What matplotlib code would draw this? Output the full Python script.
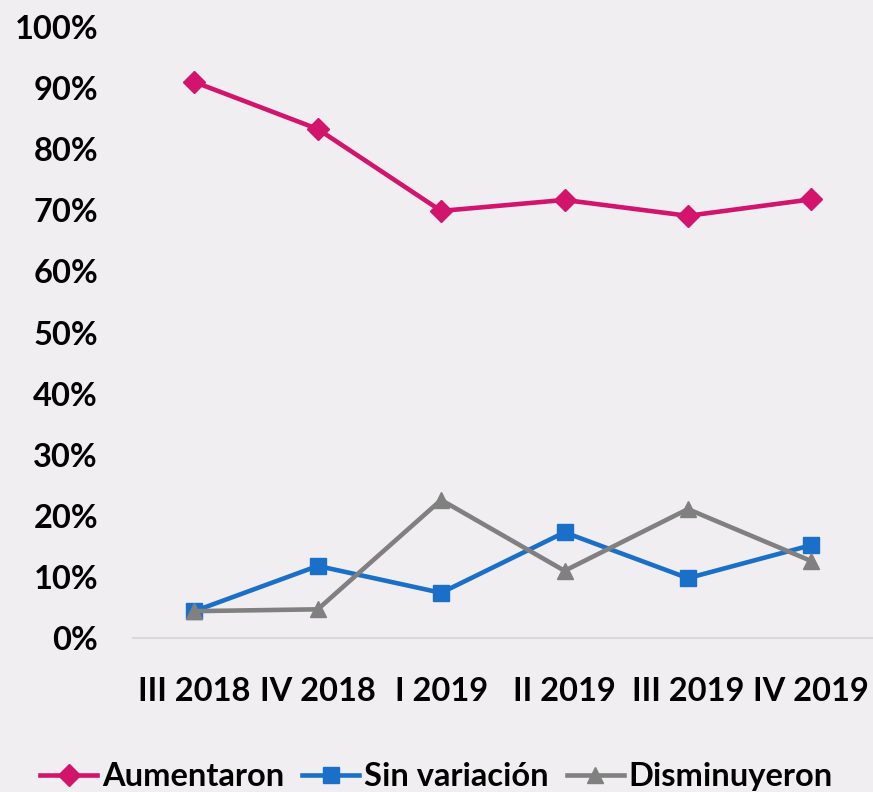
import numpy as np
import matplotlib
matplotlib.use("Agg")
import matplotlib.pyplot as plt
from matplotlib.ticker import PercentFormatter

categories = ["III 2018", "IV 2018", "I 2019", "II 2019", "III 2019", "IV 2019"]
aumentaron = [91.0, 83.3, 69.9, 71.7, 69.1, 71.8]
sin_variacion = [4.4, 11.8, 7.4, 17.3, 9.8, 15.2]
disminuyeron = [4.4, 4.7, 22.6, 11.0, 21.1, 12.6]

plt.rcParams['font.family'] = ['Lato', 'DejaVu Sans']
plt.rcParams['font.weight'] = 'bold'

bg = "#F0EEF0"
fig = plt.figure(figsize=(8.73, 7.92), dpi=100, facecolor=bg)
ax = fig.add_axes([0.152, 0.1944, 0.848, 0.7715], facecolor=bg)

x = np.arange(len(categories))
ax.plot(x, aumentaron, color="#D2146C", lw=3.3, marker="D", ms=11, label="Aumentaron")
ax.plot(x, sin_variacion, color="#1A70C8", lw=3.3, marker="s", ms=11, label="Sin variación")
ax.plot(x, disminuyeron, color="#808080", lw=3.3, marker="^", ms=12, label="Disminuyeron")

ax.set_xlim(-0.5, len(categories) - 0.5)
ax.set_ylim(0, 100)
ax.set_yticks(np.arange(0, 101, 10))
ax.yaxis.set_major_formatter(PercentFormatter(decimals=0))
ax.set_xticks(x)
ax.set_xticklabels(categories)

for s in ["top", "right", "left"]:
    ax.spines[s].set_visible(False)
ax.spines["bottom"].set_color("#D9D9D9")
ax.spines["bottom"].set_linewidth(1.5)
ax.tick_params(axis="both", length=0, labelsize=23.5)
ax.tick_params(axis="y", pad=25)
ax.tick_params(axis="x", pad=28)

fig.legend(loc="lower center", bbox_to_anchor=(0.5, -0.036), ncol=3, frameon=False,
           fontsize=23.5, handlelength=1.75, handletextpad=0.15, columnspacing=0.55)

fig.savefig("out.png", dpi=100, facecolor=bg)
